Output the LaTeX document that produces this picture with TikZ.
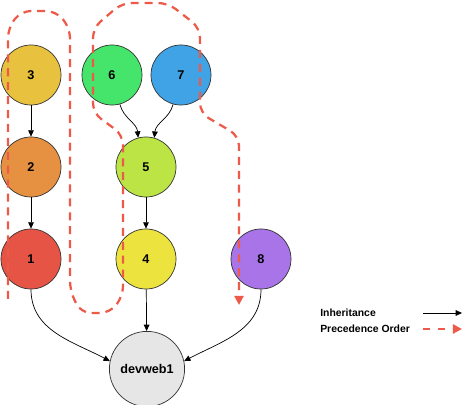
\documentclass[tikz,border=0pt]{standalone}
\usepackage{fontspec}
\setmainfont{Liberation Sans}
\usepackage{tikz}
\usetikzlibrary{arrows.meta,positioning}

\definecolor{cThree}{HTML}{E8C23F}
\definecolor{cTwo}{HTML}{E69142}
\definecolor{cOne}{HTML}{E55445}
\definecolor{cSix}{HTML}{45E46A}
\definecolor{cSeven}{HTML}{3FA3E6}
\definecolor{cFive}{HTML}{BCE444}
\definecolor{cFour}{HTML}{EDE33F}
\definecolor{cEight}{HTML}{A874E8}
\definecolor{cHost}{HTML}{E6E6E6}
\definecolor{cPrec}{HTML}{EE5A4A}

\tikzset{
  circPkg/.style={ draw=black!80, line width=0.5pt, circle, minimum size=1.5cm, inner sep=0pt,
    font=\fontsize{9}{10}\selectfont\bfseries }
}
\tikzset{
  circHost/.style={ circPkg, minimum size=1.88cm }
}
\tikzset{
  inh/.style={ line width=0.5pt, -{Triangle[length=4.5pt,width=4pt]} }
}
\tikzset{
  prec/.style={ draw=cPrec, line width=1.6pt, dash pattern=on 5.7pt off 4.2pt,
    -{Triangle[length=6.5pt,width=6.5pt]} }
}
\tikzset{
  legtxt/.style={ anchor=west, inner sep=0pt, font=\fontsize{7.4}{9}\selectfont\bfseries }
}

\begin{document}
\begin{tikzpicture}[x=0.025cm, y=-0.025cm]
      \useasboundingbox (0,0) rectangle (462,405);

      \node[circPkg, fill=cThree] (n3) at (31, 75) {3};
      \node[circPkg, fill=cTwo] (n2) at (31, 167) {2};
      \node[circPkg, fill=cOne] (n1) at (31, 259) {1};

      \node[circPkg, fill=cSix] (n6) at (112, 75) {6};
      \node[circPkg, fill=cSeven] (n7) at (181, 75) {7};
      \node[circPkg, fill=cFive] (n5) at (146, 167) {5};
      \node[circPkg, fill=cFour] (n4) at (146, 259) {4};

      \node[circPkg, fill=cEight] (n8) at (261, 259) {8};

      \node[circHost, fill=cHost] (host) at (147, 369) {devweb1};

      \begin{scope}[inh]
        \draw (n3) edge (n2);
        \draw (n2) edge (n1);

        \draw (n6) edge[out=-75, in=95] (n5.105);
        \draw (n7) edge[out=-105, in=85] (n5.74);

        \draw (n5) edge (n4);
        \draw (n4) edge (host);

        \draw (n1) edge[out=-90, in=152] (host.168);
        \draw (n8) edge[out=-90, in=28] (host.12);
      \end{scope}

      % precedence order route
      \draw[prec, rounded corners=7pt]
        (8,299) -- (8,28) -- (21,11) -- (56,11) -- (70,28)
        -- (70,291) -- (81,313) -- (110,313) -- (123,296)
        -- (123,135) -- (93,113) -- (93,28) -- (122,3) -- (168,3) -- (200,28)
        -- (200,113) -- (239,136) -- (239,305);

      % legend
      \node[legtxt] (lgInh) at (320,313) {Inheritance};
      \node[legtxt] (lgPrec) at (320,329) {Precedence Order};
      \coordinate (inhA) at (423,313);
      \coordinate (inhB) at (462,313);
      \coordinate (precA) at (423,329);
      \coordinate (precB) at (462,329);
      \draw[inh] (inhA) -- (inhB);
      \draw[prec, dash pattern=on 5pt off 5.5pt] (precA) -- (precB);
    \end{tikzpicture}
\end{document}
